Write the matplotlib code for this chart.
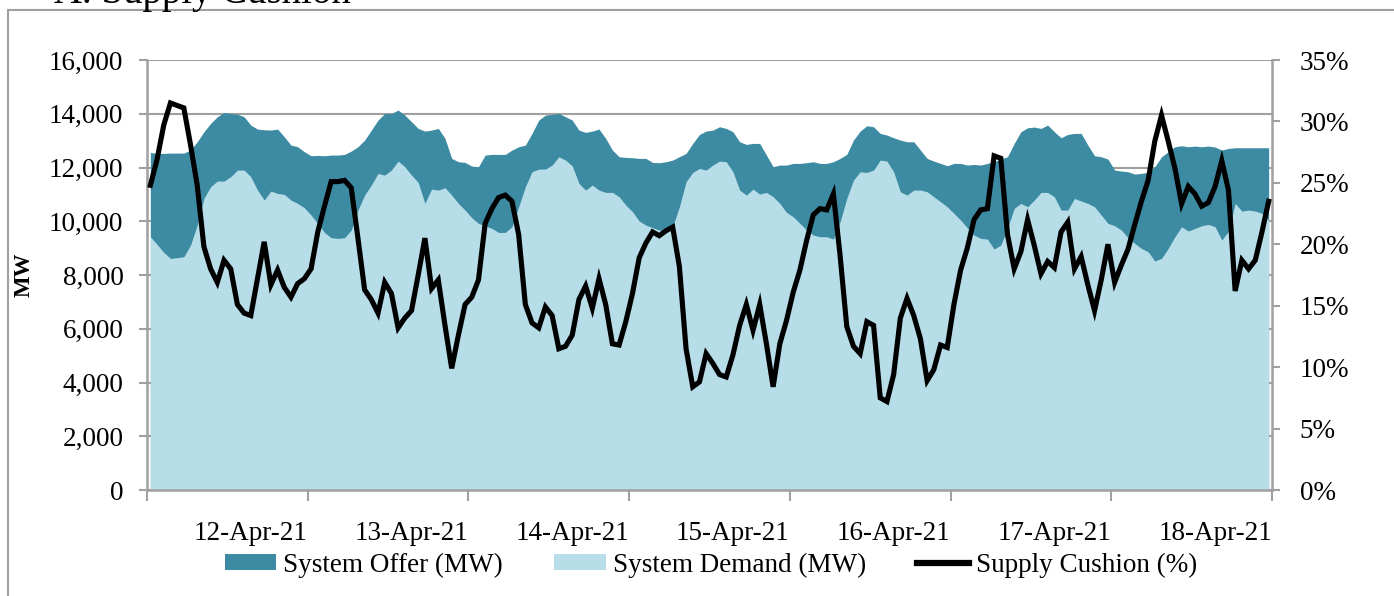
import numpy as np
import matplotlib
matplotlib.use("Agg")
import matplotlib.pyplot as plt
from matplotlib.patches import Rectangle
from matplotlib.lines import Line2D
from matplotlib.patches import Patch
from matplotlib.ticker import FuncFormatter

# ---------------- data (hourly, 11-Apr-21 01:00 .. 18-Apr-21 00:00) ----------------
day_labels = ["12-Apr-21", "13-Apr-21", "14-Apr-21", "15-Apr-21",
              "16-Apr-21", "17-Apr-21", "18-Apr-21"]

system_offer = [
    12561, 12524, 12524, 12536, 12536, 12536, 12648, 12958, 13330, 13640, 13888, 14049,
    14012, 13987, 13888, 13578, 13429, 13404, 13392, 13429, 13144, 12834, 12772, 12586,
    12437, 12450, 12437, 12462, 12462, 12487, 12611, 12772, 13020, 13392, 13764, 14012,
    14012, 14136, 13950, 13702, 13454, 13355, 13392, 13454,
    13082, 12338, 12214, 12189, 12053, 12028, 12462, 12487, 12487, 12487, 12648, 12772,
    12834, 13268, 13764, 13950, 13975, 14012, 13888, 13764, 13392, 13305, 13355, 13429,
    13082, 12648, 12400, 12375, 12363, 12338, 12338, 12189, 12177, 12214, 12276, 12400,
    12524, 12896, 13230, 13355, 13392, 13516, 13454,
    13330, 12958, 12859, 12896, 12896, 12462, 12028, 12090, 12090, 12152, 12152, 12177,
    12214, 12152, 12152, 12214, 12338, 12487, 13020, 13355, 13553, 13516, 13268, 13206,
    13107, 13020, 12958, 12958, 12648, 12338, 12239, 12152, 12065, 12152, 12152, 12090,
    12115, 12090, 12152,
    12214, 12313, 12400, 12896, 13330, 13479, 13504, 13454, 13578, 13330, 13107, 13230,
    13268, 13268, 12834, 12437, 12400, 12313, 11904, 11867, 11842, 11755, 11780, 11817,
    12028, 12400, 12586, 12772, 12809, 12772, 12797, 12772, 12797, 12760, 12648, 12710,
    12735, 12735, 12735, 12735, 12735, 12735,
]

system_demand = [
    9424, 9139, 8841, 8618, 8643, 8680, 9114, 9858, 10850, 11284, 11495, 11495,
    11656, 11904, 11904, 11656, 11160, 10788, 11123, 11036, 10999, 10788, 10664, 10503,
    10230, 9920, 9585, 9387, 9362, 9387, 9672, 10416, 10974, 11346, 11780, 11718,
    11904, 12239, 12028, 11718, 11445, 10664, 11197, 11160,
    11247, 10974, 10664, 10416, 10131, 9920, 9833, 9734, 9585, 9585, 9796, 10540,
    11284, 11842, 11941, 11941, 12090, 12400, 12276, 12065, 11408, 11160, 11346, 11160,
    11073, 11073, 10912, 10602, 10354, 10007, 9858, 9759, 9672, 9672, 9796, 10540,
    11470, 11817, 11966, 11904, 12090, 12239, 12214,
    11842, 11160, 10974, 11197, 11011, 11073, 10912, 10664, 10329, 10168, 9920, 9672,
    9486, 9424, 9424, 9337, 9982, 10850, 11532, 11842, 11817, 11904, 12276, 12239,
    11842, 11098, 10974, 11160, 11160, 11098, 10912, 10726, 10540, 10292, 10044, 9759,
    9486, 9362, 9337,
    8965, 9114, 9734, 10478, 10664, 10540, 10788, 11073, 11073, 10912, 10416, 10416,
    10850, 10751, 10664, 10540, 10230, 9920, 9833, 9672, 9387, 9176, 8990, 8866,
    8519, 8618, 8990, 9424, 9796, 9635, 9734, 9833, 9883, 9796, 9300, 9635,
    10664, 10379, 10416, 10379, 10292, 10044,
]

supply_cushion_pct = [
    24.8, 26.9, 29.7, 31.5, 31.3, 31.1, 28.1, 24.8, 19.8, 18.0, 16.9, 18.7,
    18.0, 15.1, 14.4, 14.2, 17.2, 20.2, 16.7, 17.9, 16.5, 15.7, 16.8, 17.2,
    18.0, 21.0, 23.1, 25.1, 25.1, 25.2, 24.6, 20.5, 16.3, 15.5, 14.4, 16.9,
    16.0, 13.2, 14.0, 14.6, 17.5, 20.5, 16.4, 17.1,
    13.4, 9.9, 12.6, 15.1, 15.7, 17.1, 21.7, 22.9, 23.8, 24.0, 23.5, 20.8,
    15.1, 13.6, 13.2, 14.9, 14.2, 11.5, 11.7, 12.6, 15.5, 16.6, 14.8, 17.2,
    15.1, 11.9, 11.8, 13.7, 16.0, 18.9, 20.1, 21.0, 20.7, 21.1, 21.4, 18.2,
    11.5, 8.4, 8.8, 11.1, 10.3, 9.4, 9.2,
    11.0, 13.4, 15.1, 13.0, 15.1, 11.9, 8.4, 11.9, 13.8, 16.1, 17.9, 20.3,
    22.4, 22.9, 22.8, 24.1, 19.1, 13.3, 11.7, 11.1, 13.7, 13.4, 7.5, 7.2,
    9.4, 14.0, 15.6, 14.2, 12.3, 8.9, 9.8, 11.8, 11.6, 15.1, 17.9, 19.7,
    22.0, 22.8, 22.9,
    27.2, 27.0, 20.8, 18.0, 19.4, 22.0, 19.9, 17.6, 18.6, 18.1, 21.0, 21.8,
    18.0, 19.0, 16.7, 14.6, 17.1, 20.0, 16.9, 18.3, 19.6, 21.6, 23.5, 25.2,
    28.4, 30.5, 28.4, 26.2, 23.3, 24.7, 24.1, 23.1, 23.4, 24.7, 26.8, 24.4,
    16.2, 18.7, 18.0, 18.7, 21.0, 23.5,
]

# ---------------- styling ----------------
FONT = ["Liberation Serif", "DejaVu Serif"]
plt.rcParams["font.family"] = FONT
DARK = "#3D8BA3"
LIGHT = "#B7DDE8"
GRAY = "#A0A0A0"

hours = np.arange(len(system_offer)) + 0.5
offer = np.array(system_offer, dtype=float)
demand = np.array(system_demand, dtype=float)
cushion = np.array(supply_cushion_pct, dtype=float) / 100.0

fig = plt.figure(figsize=(13.94, 5.96), dpi=100)
ax = fig.add_axes([147 / 1394, 1 - 490 / 596, 1125 / 1394, 430 / 596])

ax.fill_between(hours, 0, offer, color=DARK, lw=0, zorder=2)
ax.fill_between(hours, 0, demand, color=LIGHT, lw=0, zorder=3)

ax.set_xlim(0, 168)
ax.set_ylim(0, 16000)
ax.set_yticks(np.arange(0, 16001, 2000))
ax.yaxis.set_major_formatter(FuncFormatter(lambda v, p: f"{int(v):,}"))
ax.set_axisbelow(True)
ax.yaxis.grid(True, color=GRAY, lw=1.5, zorder=0)

ax.set_xticks(np.arange(0, 169, 24))
ax.set_xticklabels([""] + day_labels, ha="right")
ax.tick_params(axis="x", length=8, width=1.5, color=GRAY, pad=14, labelsize=19.5)
ax.tick_params(axis="y", length=6, width=1.5, color=GRAY, pad=11, labelsize=19.5)

for s in ["top", "right"]:
    ax.spines[s].set_visible(False)
for s in ["left", "bottom"]:
    ax.spines[s].set_color(GRAY)
    ax.spines[s].set_linewidth(1.8)
    ax.spines[s].set_zorder(5)

ax.set_ylabel("MW", fontsize=16.5, fontweight="bold", labelpad=10)

ax2 = ax.twinx()
ax2.plot(hours, cushion, color="black", lw=3.7, solid_joinstyle="miter", zorder=4)
ax2.set_ylim(0, 0.35)
ax2.set_yticks(np.arange(0, 0.351, 0.05))
ax2.yaxis.set_major_formatter(FuncFormatter(lambda v, p: f"{int(round(v * 100))}%"))
ax2.tick_params(axis="y", length=6, width=1.5, color=GRAY, pad=14, labelsize=19.5)
for s in ["top", "left", "bottom"]:
    ax2.spines[s].set_visible(False)
ax2.spines["right"].set_color(GRAY)
ax2.spines["right"].set_linewidth(1.8)

# legend
handles = [Patch(facecolor=DARK, edgecolor="none"),
           Patch(facecolor=LIGHT, edgecolor="none"),
           Line2D([], [], color="black", lw=4.5)]
labels = ["System Offer (MW)", "System Demand (MW)", "Supply Cushion (%)"]
fig.legend(handles, labels, loc="center", bbox_to_anchor=(0.51, 1 - 565 / 596),
           ncol=3, frameon=False, fontsize=19.5, handlelength=1.9,
           handleheight=0.55, handletextpad=0.25, columnspacing=1.9)

# outer frame (partly cut off) and clipped title, as in the source page
fig.patches.append(Rectangle((8 / 1394, -0.2), 2.0, 1.2 - 10 / 596,
                             transform=fig.transFigure, fill=False,
                             edgecolor="#A0A0A0", lw=1.5))
fig.text(54 / 1394, 1 - 3 / 596, "A. Supply Cushion", fontsize=28,
         ha="left", va="baseline")

fig.savefig("out.png", dpi=100)
